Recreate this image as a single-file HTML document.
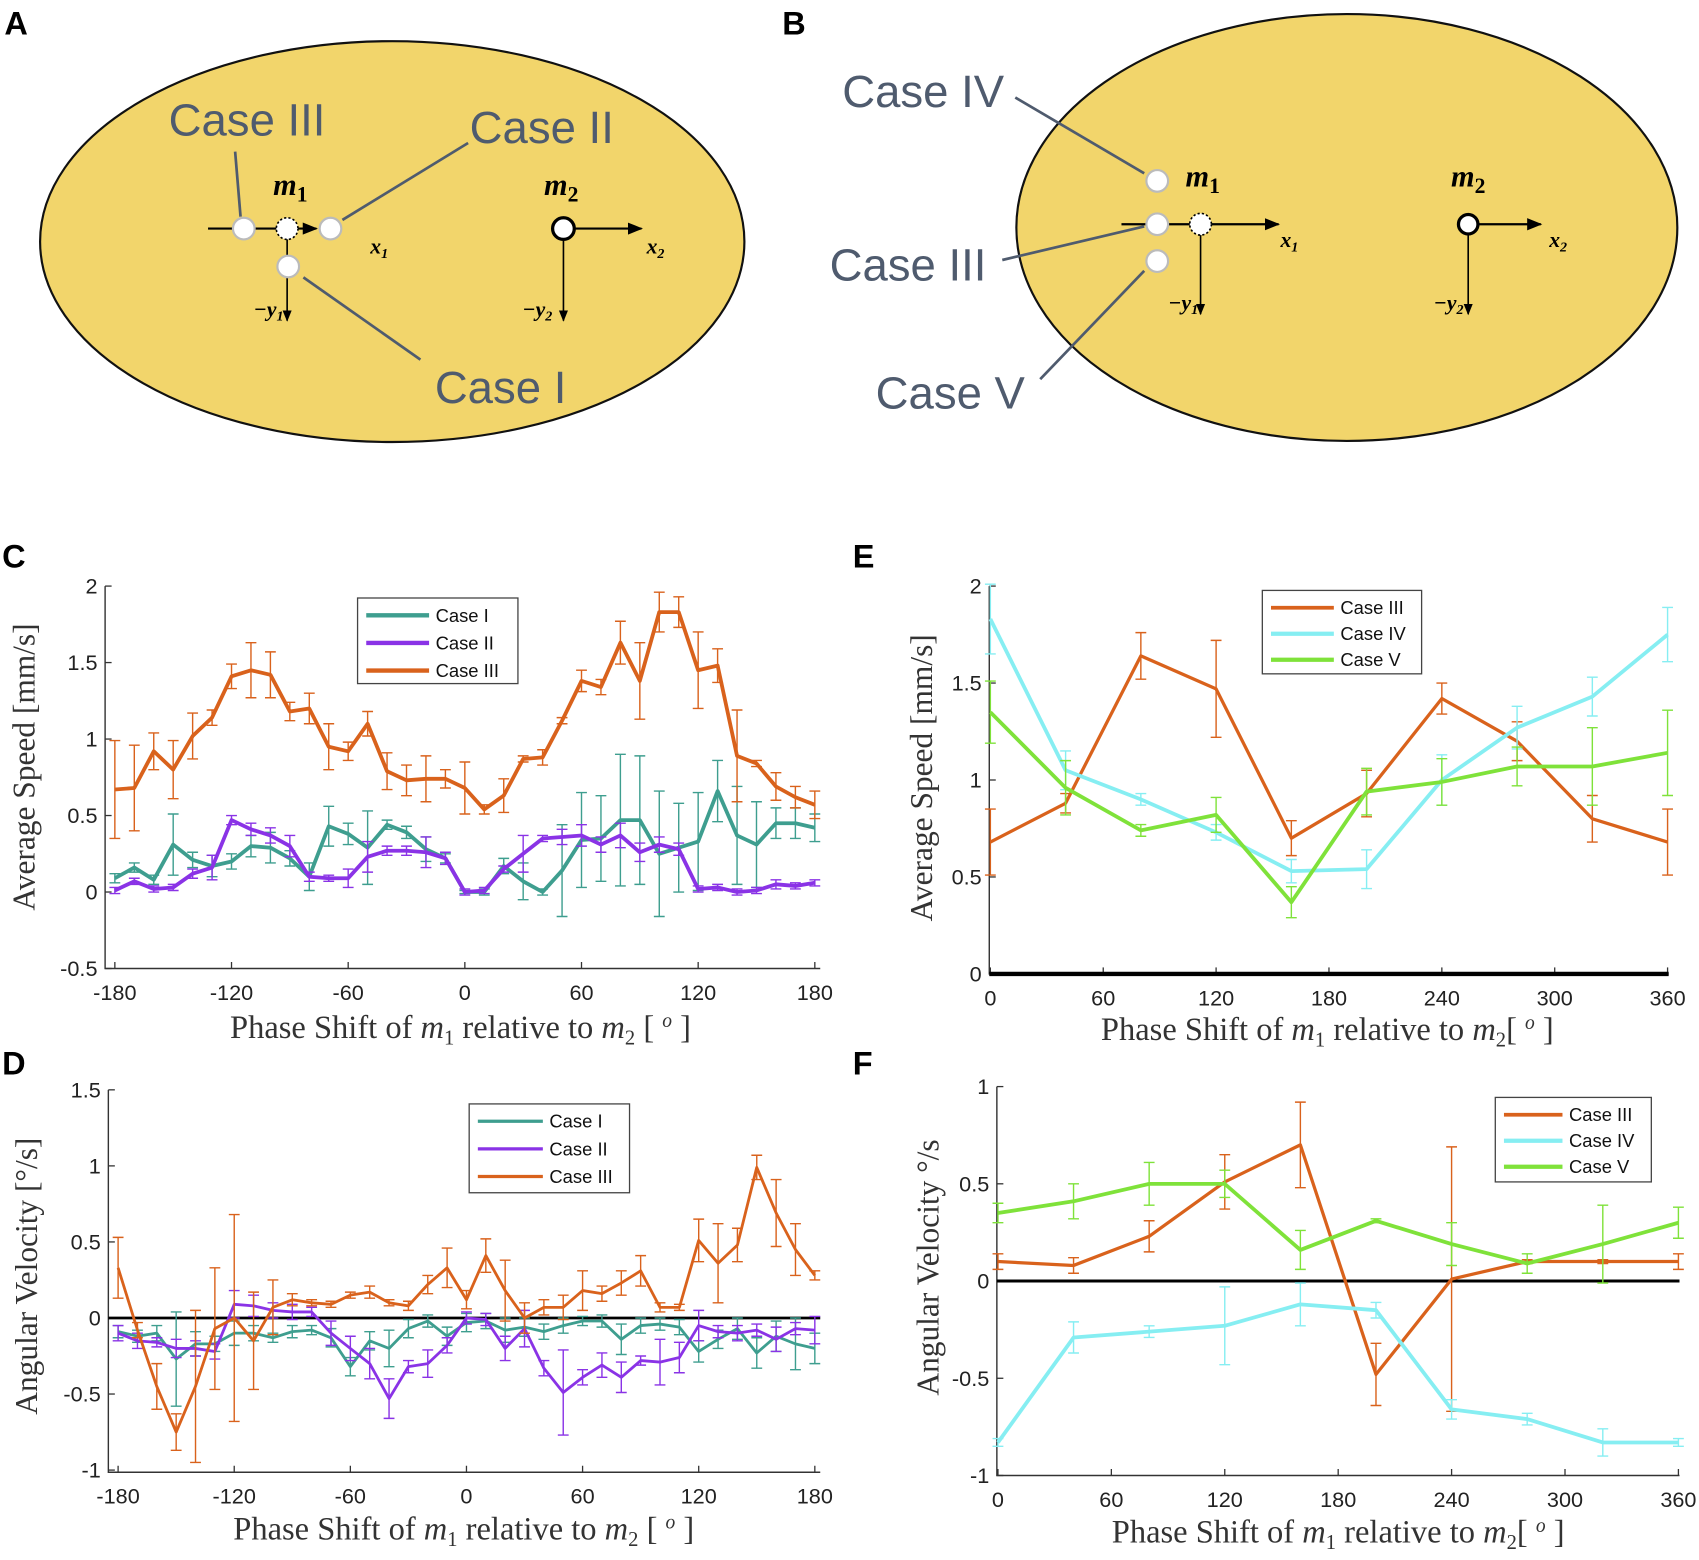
<!DOCTYPE html>
<html><head><meta charset="utf-8"><style>
html,body{margin:0;padding:0;background:#fff;}
svg{display:block;}
text{font-family:"Liberation Sans",sans-serif;}
.serif{font-family:"Liberation Serif",serif;}
</style></head><body>
<svg id="fig" width="1699" height="1560" viewBox="0 0 1568 1440" preserveAspectRatio="none" xmlns="http://www.w3.org/2000/svg">
<defs>
<marker id="arr" viewBox="0 0 10 10" refX="9" refY="5" markerWidth="7" markerHeight="7" orient="auto"><path d="M0,1 L10,5 L0,9 z" fill="#000"/></marker>
</defs>
<g font-weight="bold" font-size="30" fill="#000">
<text x="4" y="32">A</text>
<text x="722" y="32">B</text>
<text x="2" y="524">C</text>
<text x="2" y="992">D</text>
<text x="787" y="524">E</text>
<text x="787" y="992">F</text>
</g>
<g>
<ellipse cx="362" cy="223" rx="325" ry="185" fill="#F2D56B" stroke="#111" stroke-width="2"/>
<line x1="192" y1="211" x2="292" y2="211" stroke="#000" stroke-width="2" marker-end="url(#arr)"/>
<line x1="265" y1="211" x2="265" y2="296" stroke="#000" stroke-width="1.5" marker-end="url(#arr)"/>
<circle cx="225" cy="211" r="10" fill="#fff" stroke="#bbb" stroke-width="2"/>
<circle cx="265" cy="211" r="10" fill="#fff" stroke="#000" stroke-width="1.5" stroke-dasharray="2,2"/>
<circle cx="305" cy="211" r="10" fill="#fff" stroke="#bbb" stroke-width="2"/>
<circle cx="266" cy="246" r="10" fill="#fff" stroke="#bbb" stroke-width="2"/>
<line x1="217" y1="140" x2="222" y2="200" stroke="#4f5b6e" stroke-width="2.5"/>
<line x1="432" y1="132" x2="316" y2="203" stroke="#4f5b6e" stroke-width="2.5"/>
<line x1="388" y1="332" x2="280" y2="256" stroke="#4f5b6e" stroke-width="2.5"/>
<text x="228" y="125" font-size="42" fill="#4f5b6e" text-anchor="middle">Case III</text>
<text x="500" y="132" font-size="42" fill="#4f5b6e" text-anchor="middle">Case II</text>
<text x="462" y="372" font-size="42" fill="#4f5b6e" text-anchor="middle">Case I</text>
<text x="268" y="180" class="serif" font-size="28" font-weight="bold" font-style="italic" text-anchor="middle">m<tspan font-size="20" dy="6" font-style="normal">1</tspan></text>
<text x="518" y="180" class="serif" font-size="28" font-weight="bold" font-style="italic" text-anchor="middle">m<tspan font-size="20" dy="6" font-style="normal">2</tspan></text>
<text x="350" y="234" class="serif" font-size="20" font-style="italic" font-weight="bold" text-anchor="middle">x<tspan font-size="13" dy="4">1</tspan></text>
<text x="248" y="292" class="serif" font-size="20" font-style="italic" font-weight="bold" text-anchor="middle">−y<tspan font-size="13" dy="4">1</tspan></text>
<line x1="520" y1="211" x2="592" y2="211" stroke="#000" stroke-width="2" marker-end="url(#arr)"/>
<line x1="520" y1="211" x2="520" y2="296" stroke="#000" stroke-width="1.5" marker-end="url(#arr)"/>
<circle cx="520" cy="211" r="10" fill="#fff" stroke="#000" stroke-width="3"/>
<text x="605" y="234" class="serif" font-size="20" font-style="italic" font-weight="bold" text-anchor="middle">x<tspan font-size="13" dy="4">2</tspan></text>
<text x="496" y="292" class="serif" font-size="20" font-style="italic" font-weight="bold" text-anchor="middle">−y<tspan font-size="13" dy="4">2</tspan></text>
</g>
<g>
<ellipse cx="1243" cy="210" rx="305" ry="197" fill="#F2D56B" stroke="#111" stroke-width="2"/>
<line x1="1035" y1="207" x2="1180" y2="207" stroke="#000" stroke-width="2" marker-end="url(#arr)"/>
<line x1="1108" y1="207" x2="1108" y2="290" stroke="#000" stroke-width="1.5" marker-end="url(#arr)"/>
<circle cx="1068" cy="167" r="10" fill="#fff" stroke="#bbb" stroke-width="2"/>
<circle cx="1068" cy="207" r="10" fill="#fff" stroke="#bbb" stroke-width="2"/>
<circle cx="1108" cy="207" r="10" fill="#fff" stroke="#000" stroke-width="1.5" stroke-dasharray="2,2"/>
<circle cx="1068" cy="241" r="10" fill="#fff" stroke="#bbb" stroke-width="2"/>
<line x1="937" y1="90" x2="1056" y2="160" stroke="#4f5b6e" stroke-width="2.5"/>
<line x1="925" y1="240" x2="1056" y2="209" stroke="#4f5b6e" stroke-width="2.5"/>
<line x1="960" y1="350" x2="1056" y2="250" stroke="#4f5b6e" stroke-width="2.5"/>
<text x="852" y="99" font-size="42" fill="#4f5b6e" text-anchor="middle">Case IV</text>
<text x="838" y="259" font-size="42" fill="#4f5b6e" text-anchor="middle">Case III</text>
<text x="877" y="377" font-size="42" fill="#4f5b6e" text-anchor="middle">Case V</text>
<text x="1110" y="172" class="serif" font-size="28" font-weight="bold" font-style="italic" text-anchor="middle">m<tspan font-size="20" dy="6" font-style="normal">1</tspan></text>
<text x="1355" y="172" class="serif" font-size="28" font-weight="bold" font-style="italic" text-anchor="middle">m<tspan font-size="20" dy="6" font-style="normal">2</tspan></text>
<text x="1190" y="228" class="serif" font-size="20" font-style="italic" font-weight="bold" text-anchor="middle">x<tspan font-size="13" dy="4">1</tspan></text>
<text x="1092" y="286" class="serif" font-size="20" font-style="italic" font-weight="bold" text-anchor="middle">−y<tspan font-size="13" dy="4">1</tspan></text>
<line x1="1355" y1="207" x2="1422" y2="207" stroke="#000" stroke-width="2" marker-end="url(#arr)"/>
<line x1="1355" y1="207" x2="1355" y2="290" stroke="#000" stroke-width="1.5" marker-end="url(#arr)"/>
<circle cx="1355" cy="207" r="9" fill="#fff" stroke="#000" stroke-width="3"/>
<text x="1438" y="228" class="serif" font-size="20" font-style="italic" font-weight="bold" text-anchor="middle">x<tspan font-size="13" dy="4">2</tspan></text>
<text x="1337" y="286" class="serif" font-size="20" font-style="italic" font-weight="bold" text-anchor="middle">−y<tspan font-size="13" dy="4">2</tspan></text>
</g>
<g id="charts"></g>
</svg>
<script>
const phaseCD = [-180,-170,-160,-150,-140,-130,-120,-110,-100,-90,-80,-70,-60,-50,-40,-30,-20,-10,0,10,20,30,40,50,60,70,80,90,100,110,120,130,140,150,160,170,180];
const phaseEF = [0,40,80,120,160,200,240,280,320,360];

const speedCase1 = [0.09,0.16,0.08,0.31,0.21,0.17,0.20,0.30,0.29,0.22,0.10,0.43,0.38,0.29,0.44,0.39,0.28,0.22,0.0,0.0,0.17,0.07,0.0,0.14,0.34,0.35,0.47,0.47,0.25,0.29,0.33,0.66,0.37,0.31,0.45,0.45,0.42];
const speedCase1Err = [0.03,0.03,0.03,0.2,0.05,0.07,0.05,0.07,0.1,0.05,0.09,0.13,0.07,0.24,0.03,0.04,0.08,0.03,0.01,0.02,0.05,0.12,0.02,0.3,0.31,0.28,0.43,0.42,0.41,0.29,0.32,0.2,0.32,0.28,0.1,0.1,0.09];
const speedCase2 = [0.01,0.07,0.02,0.03,0.12,0.16,0.47,0.41,0.37,0.30,0.10,0.09,0.09,0.23,0.27,0.27,0.26,0.22,0.0,0.01,0.15,0.25,0.35,0.36,0.37,0.31,0.37,0.26,0.31,0.28,0.02,0.03,0.0,0.01,0.05,0.04,0.06];
const speedCase2Err = [0.02,0.02,0.02,0.02,0.03,0.08,0.03,0.04,0.05,0.07,0.03,0.02,0.06,0.1,0.03,0.03,0.1,0.04,0.02,0.02,0.02,0.12,0.02,0.05,0.07,0.05,0.08,0.06,0.05,0.04,0.02,0.02,0.02,0.02,0.03,0.02,0.02];
const speedCase3 = [0.67,0.68,0.92,0.80,1.02,1.14,1.41,1.45,1.42,1.18,1.20,0.95,0.92,1.10,0.79,0.73,0.74,0.74,0.68,0.54,0.63,0.87,0.88,1.12,1.38,1.34,1.63,1.38,1.83,1.83,1.45,1.48,0.89,0.84,0.69,0.62,0.57];
const speedCase3Err = [0.32,0.28,0.12,0.19,0.15,0.05,0.08,0.18,0.15,0.06,0.1,0.15,0.06,0.08,0.12,0.1,0.15,0.06,0.17,0.03,0.11,0.02,0.05,0.02,0.07,0.05,0.14,0.25,0.13,0.1,0.25,0.11,0.3,0.02,0.09,0.07,0.09];

const angCase1 = [-0.09,-0.12,-0.1,-0.27,-0.17,-0.17,-0.1,-0.1,-0.13,-0.09,-0.08,-0.13,-0.32,-0.15,-0.2,-0.07,-0.02,-0.12,-0.03,-0.02,-0.08,-0.06,-0.09,-0.05,-0.02,-0.02,-0.14,-0.05,-0.04,-0.06,-0.22,-0.14,-0.07,-0.23,-0.12,-0.17,-0.2];
const angCase1Err = [0.04,0.04,0.05,0.31,0.08,0.05,0.08,0.05,0.03,0.04,0.03,0.06,0.06,0.06,0.12,0.06,0.04,0.06,0.06,0.05,0.08,0.06,0.05,0.05,0.03,0.04,0.1,0.05,0.04,0.05,0.07,0.06,0.07,0.1,0.1,0.17,0.1];
const angCase2 = [-0.1,-0.15,-0.16,-0.2,-0.2,-0.22,0.09,0.08,0.05,0.04,0.04,-0.1,-0.2,-0.3,-0.53,-0.32,-0.3,-0.18,0.0,-0.01,-0.2,-0.07,-0.33,-0.49,-0.39,-0.31,-0.39,-0.28,-0.29,-0.26,-0.05,-0.09,-0.1,-0.08,-0.14,-0.07,-0.08];
const angCase2Err = [0.05,0.05,0.03,0.06,0.05,0.05,0.09,0.07,0.05,0.05,0.03,0.08,0.08,0.1,0.13,0.04,0.09,0.05,0.04,0.04,0.08,0.12,0.05,0.28,0.05,0.08,0.1,0.03,0.15,0.1,0.1,0.04,0.05,0.04,0.08,0.04,0.09];
const angCase3 = [0.33,-0.08,-0.45,-0.75,-0.45,-0.07,0.0,-0.15,0.07,0.12,0.1,0.09,0.15,0.17,0.1,0.08,0.22,0.33,0.12,0.41,0.18,0.0,0.07,0.07,0.18,0.16,0.23,0.31,0.07,0.07,0.51,0.36,0.48,0.99,0.69,0.45,0.28];
const angCase3Err = [0.2,0.05,0.15,0.12,0.5,0.4,0.68,0.32,0.18,0.04,0.02,0.02,0.02,0.04,0.02,0.03,0.06,0.13,0.06,0.11,0.2,0.1,0.05,0.08,0.13,0.05,0.08,0.1,0.03,0.02,0.14,0.26,0.11,0.08,0.22,0.17,0.03];

const speedE3 = [0.68,0.88,1.64,1.47,0.70,0.93,1.42,1.20,0.80,0.68];
const speedE3Err = [0.17,0.05,0.12,0.25,0.09,0.12,0.08,0.1,0.12,0.17];
const speedE4 = [1.83,1.05,0.90,0.73,0.53,0.54,1.00,1.27,1.43,1.75];
const speedE4Err = [0.18,0.1,0.03,0.04,0.06,0.1,0.13,0.11,0.1,0.14];
const speedE5 = [1.35,0.96,0.74,0.82,0.37,0.94,0.99,1.07,1.07,1.14];
const speedE5Err = [0.16,0.14,0.03,0.09,0.08,0.12,0.12,0.1,0.2,0.22];

const angF3 = [0.10,0.08,0.23,0.51,0.70,-0.48,0.01,0.10,0.10,0.10];
const angF3Err = [0.04,0.04,0.08,0.14,0.22,0.16,0.68,0.01,0.01,0.04];
const angF4 = [-0.83,-0.29,-0.26,-0.23,-0.12,-0.15,-0.66,-0.71,-0.83,-0.83];
const angF4Err = [0.02,0.08,0.03,0.2,0.11,0.04,0.05,0.03,0.07,0.02];
const angF5 = [0.35,0.41,0.50,0.50,0.16,0.31,0.19,0.09,0.19,0.30];
const angF5Err = [0.05,0.09,0.11,0.07,0.1,0.01,0.11,0.05,0.2,0.08];

const ticksXCD = [-180,-120,-60,0,60,120,180];
const ticksXEF = [0,60,120,180,240,300,360];
const ticksYC = [-0.5,0,0.5,1,1.5,2];
const ticksYD = [-1,-0.5,0,0.5,1,1.5];
const ticksYE = [0,0.5,1,1.5,2];
const ticksYF = [-1,-0.5,0,0.5,1];

const TEAL="#3E9E8F", PURPLE="#8A33E6", ORANGE="#D9621C", CYAN="#86EEF2", GREEN="#7FE23A";
const NS="http://www.w3.org/2000/svg";
const root=document.getElementById('charts');
function mk(tag,attrs,parent){const e=document.createElementNS(NS,tag);for(const k in attrs)e.setAttribute(k,attrs[k]);(parent||root).appendChild(e);return e;}
function lin(d0,d1,r0,r1){return v=>r0+(v-d0)*(r1-r0)/(d1-d0);}

function panel(cfg){
  const g=mk('g',{});
  
  
  const X=lin(cfg.xd[0],cfg.xd[1],cfg.xr[0],cfg.xr[1]);
  const Y=lin(cfg.yd[0],cfg.yd[1],cfg.yr[0],cfg.yr[1]);
  const L=cfg.axL, B=cfg.axB, R=cfg.axR, T=cfg.axT;
  const ax=mk('path',{d:`M${L},${T} L${L},${B} L${R},${B}`,fill:'none',stroke:'#333','stroke-width':1.3},g);
  
  
  cfg.xt.forEach(t=>{
    const x=X(t);
    mk('line',{x1:x,y1:B,x2:x,y2:B-6,stroke:'#333','stroke-width':1.2},g);
    const tx=mk('text',{x:x,y:B+29,'font-size':20,'text-anchor':'middle',fill:'#222'},g);
    tx.textContent=t;
    
    
  });
  cfg.yt.forEach(t=>{
    const y=Y(t);
    mk('line',{x1:L,y1:y,x2:L+6,y2:y,stroke:'#333','stroke-width':1.2},g);
    const tx=mk('text',{x:L-7,y:y+7,'font-size':20,'text-anchor':'end',fill:'#222'},g);
    tx.textContent=t;
    
    
  });
  if(cfg.zero){
    const z=mk('line',{x1:L,y1:Y(0),x2:R,y2:Y(0),stroke:'#000','stroke-width':cfg.zeroW||2.5},g);
    
    
  }
  cfg.series.forEach(s=>{
    const sg=mk('g',{},g);
    
    
    s.y.forEach((v,i)=>{
      const x=X(cfg.x[i]), y1=Y(v+s.e[i]), y2=Y(v-s.e[i]);
      mk('path',{d:`M${x},${y1} L${x},${y2} M${x-5},${y1} L${x+5},${y1} M${x-5},${y2} L${x+5},${y2}`,stroke:s.c,'stroke-width':s.ew||1.3,fill:'none'},sg);
    });
    const d=s.y.map((v,i)=>(i?'L':'M')+X(cfg.x[i]).toFixed(1)+','+Y(v).toFixed(1)).join(' ');
    const p=mk('path',{d:d,stroke:s.c,'stroke-width':s.w,fill:'none','stroke-linejoin':'round'},sg);
    
    
  });
  const lg=mk('g',{},g);
  
  
  const [lx,ly,lw,lh]=cfg.leg;
  mk('rect',{x:lx,y:ly,width:lw,height:lh,fill:'#fff',stroke:'#444','stroke-width':1.2},lg);
  cfg.series.forEach((s,i)=>{
    const yy=ly+16+i*cfg.legStep;
    mk('line',{x1:lx+8,y1:yy,x2:lx+cfg.legLine,y2:yy,stroke:s.c,'stroke-width':s.w+0.5},lg);
    const t=mk('text',{x:lx+cfg.legLine+6,y:yy+6,'font-size':17,fill:'#111'},lg);
    t.textContent=s.label;
    
    
  });
  const yl=mk('text',{x:0,y:0,'font-size':29,'text-anchor':'middle',class:'serif',fill:'#333',transform:`translate(${cfg.ylab[0]},${cfg.ylab[1]}) rotate(-90)`},g);
  yl.textContent=cfg.ytitle;
  
  
  const xl=mk('text',{x:cfg.xlab[0],y:cfg.xlab[1],'font-size':30,'text-anchor':'middle',class:'serif',fill:'#333'},g);
  xl.innerHTML='Phase Shift of <tspan font-style="italic">m</tspan><tspan font-size="19" dy="6">1</tspan><tspan dy="-6"> relative to </tspan><tspan font-style="italic">m</tspan><tspan font-size="19" dy="6">2</tspan><tspan dy="-6">'+cfg.xsep+'[ </tspan><tspan font-style="italic" font-size="18" dy="-10">o</tspan><tspan dy="10"> ]</tspan>';
  
  
}

panel({name:'chart-c-speed',x:phaseCD,xd:[-180,180],xr:[106,752],yd:[-0.5,2],yr:[894,541],
  axL:97,axR:757,axB:894,axT:541,xt:ticksXCD,yt:ticksYC,
  series:[{name:'series-case-i',label:'Case I',y:speedCase1,e:speedCase1Err,c:TEAL,w:3.5},
          {name:'series-case-ii',label:'Case II',y:speedCase2,e:speedCase2Err,c:PURPLE,w:3.5},
          {name:'series-case-iii',label:'Case III',y:speedCase3,e:speedCase3Err,c:ORANGE,w:3.5}],
  leg:[330,552,148,79],legStep:25.5,legLine:66,ylab:[32,708],ytitle:'Average Speed [mm/s]',xlab:[425,958],xsep:' '});

panel({name:'chart-d-angular',x:phaseCD,xd:[-180,180],xr:[109,752],yd:[-1,1.5],yr:[1357,1006],
  axL:100,axR:757,axB:1359,axT:1006,xt:ticksXCD,yt:ticksYD,zero:true,zeroW:2.5,
  series:[{name:'series-case-i',label:'Case I',y:angCase1,e:angCase1Err,c:TEAL,w:2.6},
          {name:'series-case-ii',label:'Case II',y:angCase2,e:angCase2Err,c:PURPLE,w:2.6},
          {name:'series-case-iii',label:'Case III',y:angCase3,e:angCase3Err,c:ORANGE,w:2.6}],
  leg:[433,1019,148,82],legStep:25.5,legLine:68,ylab:[34,1178],ytitle:'Angular Velocity [°/s]',xlab:[428,1421],xsep:' '});

panel({name:'chart-e-speed',x:phaseEF,xd:[0,360],xr:[914,1539],yd:[0,2],yr:[899,541],
  axL:913,axR:1540,axB:899,axT:541,xt:ticksXEF,yt:ticksYE,zero:true,zeroW:4,
  series:[{name:'series-case-iii',label:'Case III',y:speedE3,e:speedE3Err,c:ORANGE,w:3},
          {name:'series-case-iv',label:'Case IV',y:speedE4,e:speedE4Err,c:CYAN,w:3.5},
          {name:'series-case-v',label:'Case V',y:speedE5,e:speedE5Err,c:GREEN,w:3.5}],
  leg:[1165,545,147,77],legStep:24,legLine:66,ylab:[860,718],ytitle:'Average Speed [mm/s]',xlab:[1225,960],xsep:''});

panel({name:'chart-f-angular',x:phaseEF,xd:[0,360],xr:[921,1549],yd:[-1,1],yr:[1362,1003],
  axL:920,axR:1550,axB:1362,axT:1003,xt:ticksXEF,yt:ticksYF,zero:true,zeroW:2.8,
  series:[{name:'series-case-iii',label:'Case III',y:angF3,e:angF3Err,c:ORANGE,w:3},
          {name:'series-case-iv',label:'Case IV',y:angF4,e:angF4Err,c:CYAN,w:3.5},
          {name:'series-case-v',label:'Case V',y:angF5,e:angF5Err,c:GREEN,w:3.5}],
  leg:[1380,1013,144,78],legStep:24,legLine:62,ylab:[866,1170],ytitle:'Angular Velocity °/s',xlab:[1235,1424],xsep:''});
</script>
</body></html>
